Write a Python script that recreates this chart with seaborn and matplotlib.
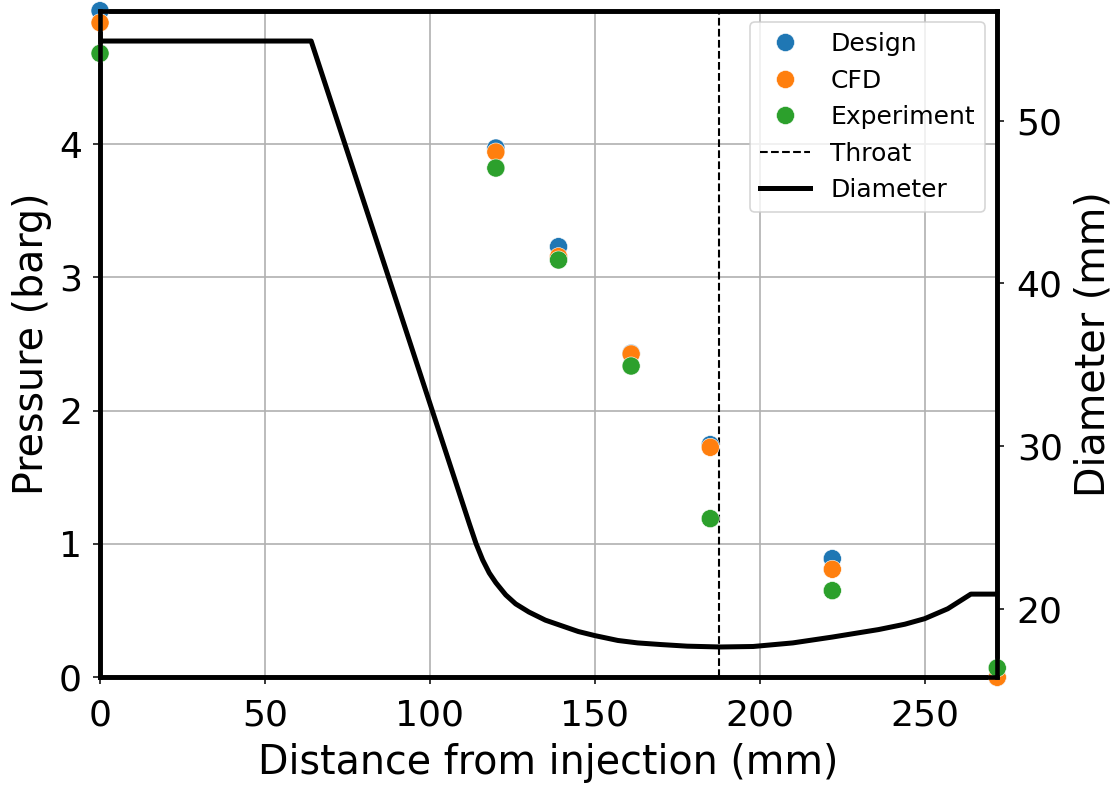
import numpy as np
import pandas as pd
import matplotlib
matplotlib.use("Agg")
import matplotlib.pyplot as plt
from matplotlib.ticker import MultipleLocator
import seaborn as sns
from matplotlib.lines import Line2D

# ---- data ----
tap_x = [0, 120, 139, 161, 185, 222, 272]
design = [5.00, 3.97, 3.23, 2.43, 1.745, 0.89, 0.00]
cfd = [4.91, 3.94, 3.155, 2.425, 1.725, 0.81, 0.00]
experiment = [4.68, 3.82, 3.13, 2.335, 1.19, 0.65, 0.07]

profile_x = [0, 64, 112, 114, 116, 118, 120, 123, 126, 130, 135, 140, 145,
             150, 157, 163, 170, 178, 188, 198, 210, 222, 236, 244, 250,
             257, 264, 272]
profile_d = [54.9, 54.9, 25.2, 24.0, 23.0, 22.2, 21.6, 20.85, 20.3, 19.8,
             19.3, 18.95, 18.6, 18.35, 18.05, 17.9, 17.8, 17.7, 17.65, 17.68,
             17.9, 18.26, 18.72, 19.05, 19.39, 20.0, 20.9, 20.9]

throat_x = 187.7
x_max = 272
pressure_ticks = [0, 1, 2, 3, 4]
x_ticks = [0, 50, 100, 150, 200, 250]

series_names = ["Design", "CFD", "Experiment"]
colors = ["#1f77b4", "#ff7f0e", "#2ca02c"]

plt.rcParams["font.family"] = ["DejaVu Sans"]

fig = plt.figure(figsize=(11.14, 7.89), dpi=100)
ax = fig.add_axes([0.0898, 0.1416, 0.8054, 0.8448])
ax2 = ax.twinx()

press_df = pd.DataFrame({
    "x": tap_x * 3,
    "p": design + cfd + experiment,
    "series": sum([[n] * len(tap_x) for n in series_names], []),
})

sns.scatterplot(data=press_df, x="x", y="p", hue="series", palette=colors,
                hue_order=series_names, s=170, ax=ax, clip_on=False,
                legend=False, zorder=3, linewidth=0.4, edgecolor="white")
ax.axvline(throat_x, color="black", linestyle="--", linewidth=1.5, zorder=2)

prof_df = pd.DataFrame({"x": profile_x, "d": profile_d})
sns.lineplot(data=prof_df, x="x", y="d", ax=ax2, color="black",
             linewidth=3.6, sort=False, estimator=None)

ax.set_xlim(0, x_max)
ax.set_ylim(0, max(design))
ax.set_yticks(pressure_ticks)
ax.set_xticks(x_ticks)
ax2.yaxis.set_major_locator(MultipleLocator(10))
ax.grid(True, color="#b0b0b0", linewidth=1.2)
ax.set_axisbelow(True)

ax.set_xlabel("Distance from injection (mm)", fontsize=28.5, labelpad=8)
ax.set_ylabel("Pressure (barg)", fontsize=28.5, labelpad=5)
ax2.set_ylabel("Diameter (mm)", fontsize=28.5, labelpad=8)

for a in (ax, ax2):
    a.tick_params(labelsize=26, length=5, width=1.1, colors="black")
    for sp in a.spines.values():
        sp.set_linewidth(3.3)
        sp.set_color("black")
ax.tick_params(axis="y", pad=8)
ax2.tick_params(axis="y", pad=9)
ax.tick_params(axis="x", pad=10)

handles = [Line2D([], [], marker="o", linestyle="none", color=c,
                  markersize=13, markeredgecolor="white", markeredgewidth=0.4)
           for c in colors]
handles += [Line2D([], [], color="black", linestyle="--", linewidth=1.5),
            Line2D([], [], color="black", linewidth=3.6)]
labels = series_names + ["Throat", "Diameter"]
leg = ax2.legend(handles, labels, loc="upper right", fontsize=18,
                 frameon=True, framealpha=0.8, edgecolor="#cccccc",
                 handlelength=2.0, handletextpad=0.8, borderpad=0.4,
                 labelspacing=0.5, borderaxespad=0,
                 bbox_to_anchor=(0.9863, 0.983))
leg.get_frame().set_linewidth(1.2)

fig.savefig("out.png", dpi=100)
